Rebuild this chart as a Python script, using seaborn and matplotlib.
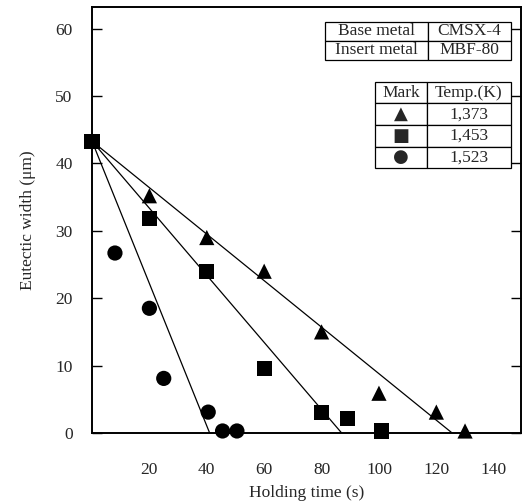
import pandas as pd
import matplotlib.pyplot as plt
import seaborn as sns
import numpy as np

# Eutectic width vs holding time, three temperatures
t_1373 = [0, 20, 40, 60, 80, 100, 120, 130]
w_1373 = [43.3, 35.2, 29.0, 24.0, 15.0, 5.9, 3.1, 0.3]

t_1453 = [0, 20, 40, 60, 80, 89, 101]
w_1453 = [43.3, 31.8, 24.0, 9.6, 3.0, 2.2, 0.3]

t_1523 = [8, 20, 25, 40.5, 45.5, 50.5]
w_1523 = [26.7, 18.5, 8.1, 3.1, 0.3, 0.3]

# fitted lines: common start, x-intercepts
line_start = 43.3
line_end = {'1,373': 125.5, '1,453': 87.0, '1,523': 41.0}

temps = ['1,373', '1,453', '1,523']
marks = ['^', 's', 'o']
mark_glyphs = ['\u25B2', '\u25A0', '\u25CF']

x_ticks = [20, 40, 60, 80, 100, 120, 140]
x_minor = [30, 60, 90, 120]
y_ticks = [0, 10, 20, 30, 40, 50, 60]

pts = pd.concat([
    pd.DataFrame({'t': t_1373, 'w': w_1373, 'Temp': '1,373'}),
    pd.DataFrame({'t': t_1453, 'w': w_1453, 'Temp': '1,453'}),
    pd.DataFrame({'t': t_1523, 'w': w_1523, 'Temp': '1,523'}),
])
lines = pd.DataFrame({
    't': [v for k in temps for v in (0, line_end[k])],
    'w': [v for k in temps for v in (line_start, 0)],
    'Temp': [k for k in temps for _ in range(2)],
})

sns.set_style('white')
plt.rcParams['font.family'] = ['Liberation Serif', 'DejaVu Serif']

fig = plt.figure(figsize=(5.24, 5.01), dpi=100)
ax = fig.add_axes([92 / 524, (501 - 433) / 501, 429 / 524, 426 / 501])

sns.lineplot(data=lines, x='t', y='w', units='Temp', estimator=None,
             color='black', lw=0.9, ax=ax, legend=False)
sns.scatterplot(data=pts, x='t', y='w', style='Temp', markers=dict(zip(temps, marks)),
                color='black', s=120, edgecolor='black', linewidth=0,
                ax=ax, legend=False, clip_on=False, zorder=5)

ax.set_xlim(0, 149.5)
ax.set_ylim(0, 63.2)
ax.set_xticks(x_ticks)
ax.set_xticks(x_minor, minor=True)
ax.set_yticks(y_ticks)
ax.tick_params(axis='x', which='major', length=0, labelsize=12.5, pad=21)
ax.tick_params(axis='x', which='minor', direction='in', length=10, width=1.1, color='black')
ax.tick_params(axis='y', direction='in', length=7, width=1, right=True, left=True,
               labelsize=12.5, pad=14, color='black')
ax.set_xlabel('Holding time (s)', fontsize=12.5, labelpad=5)
ax.set_ylabel('Eutectic width (\u03bcm)', fontsize=12.5, labelpad=14)
for sp in ax.spines.values():
    sp.set_color('black')
    sp.set_linewidth(1.4)

# info tables
tb1 = ax.table(cellText=[['Base metal', 'CMSX-4'], ['Insert metal', 'MBF-80']],
               colWidths=[0.554, 0.446], cellLoc='center',
               bbox=[0.543, 0.876, 0.434, 0.089])
tb2 = ax.table(cellText=[['Mark', 'Temp.(K)']] + [[g, k] for g, k in zip(mark_glyphs, temps)],
               colWidths=[0.38, 0.62], cellLoc='center',
               bbox=[0.660, 0.622, 0.317, 0.202])
for tb in (tb1, tb2):
    tb.auto_set_font_size(False)
    tb.set_fontsize(12.5)
    for c in tb.get_celld().values():
        c.set_linewidth(0.9)
        c.set_edgecolor('black')
for r in range(1, 4):
    tb2[r, 0].get_text().set_fontfamily('DejaVu Sans')
    tb2[r, 0].get_text().set_fontsize(13)

fig.savefig('out.png', dpi=100)
